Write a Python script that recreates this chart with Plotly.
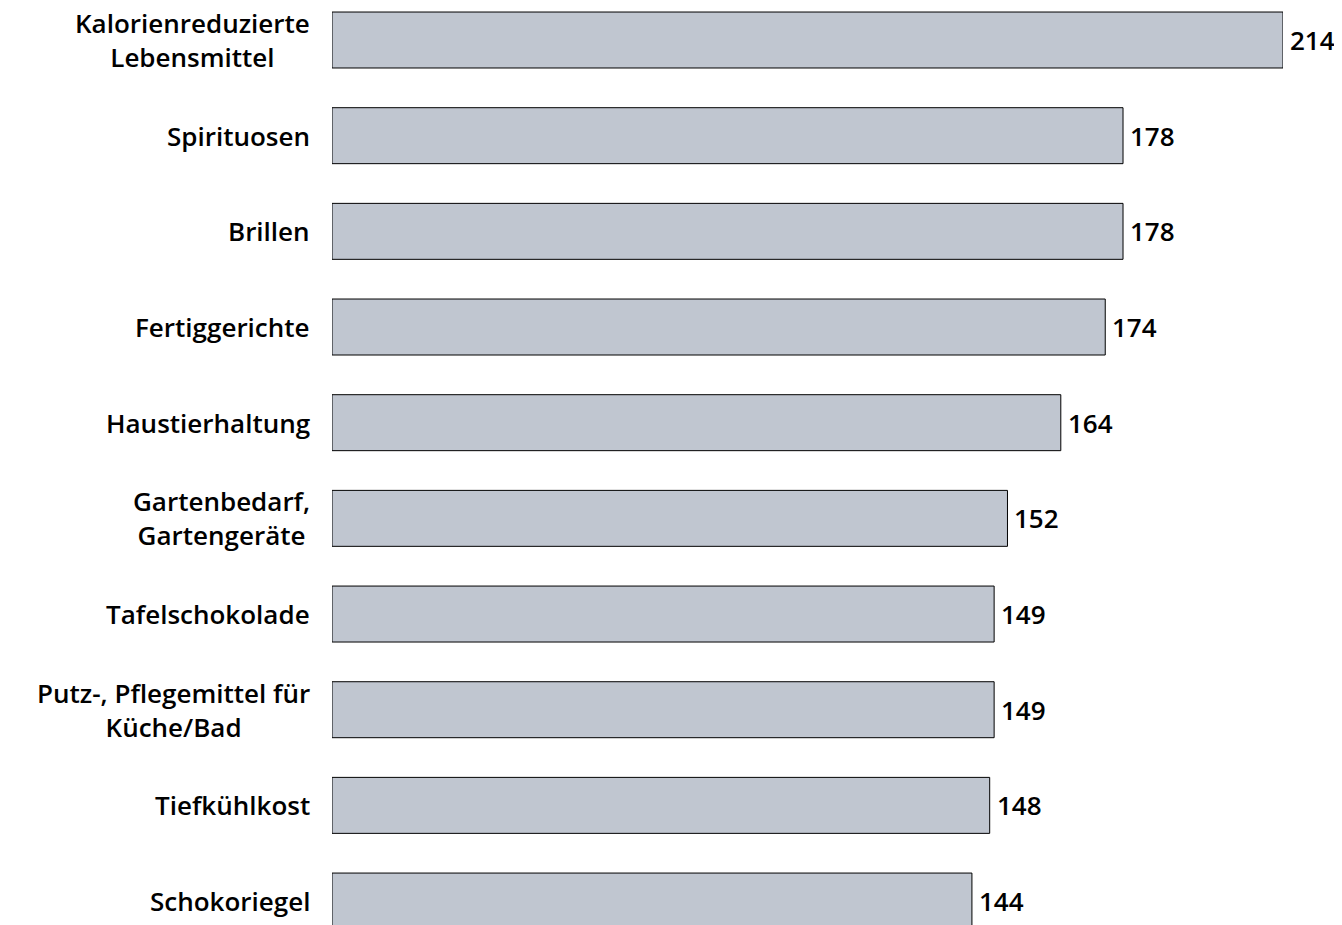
import plotly.graph_objects as go

categories = [
    "Kalorienreduzierte<br>Lebensmittel",
    "Spirituosen",
    "Brillen",
    "Fertiggerichte",
    "Haustierhaltung",
    "Gartenbedarf,<br>Gartengeräte",
    "Tafelschokolade",
    "Putz-, Pflegemittel für<br>Küche/Bad",
    "Tiefkühlkost",
    "Schokoriegel",
]
values = [214, 178, 178, 174, 164, 152, 149, 149, 148, 144]

FONT = "Open Sans"
FONTSPEC = dict(family=FONT, size=26, color="#000000", weight=600)
ypos = list(range(len(categories)))

fig = go.Figure()
fig.add_trace(go.Bar(
    x=values, y=ypos, orientation="h",
    marker=dict(color="#c0c6d0", line=dict(color="#000000", width=1)),
    width=0.585,
    hoverinfo="skip",
))

annotations = []
for i, (lab, v) in enumerate(zip(categories, values)):
    annotations.append(dict(
        x=0, xref="x", y=i, yref="y", text=lab, showarrow=False,
        xanchor="right", yanchor="middle", xshift=-20, align="center",
        font=FONTSPEC,
    ))
    annotations.append(dict(
        x=v, xref="x", y=i, yref="y", text=str(v), showarrow=False,
        xanchor="left", yanchor="middle", xshift=5,
        font=FONTSPEC,
    ))
fig.update_layout(annotations=annotations)

fig.update_layout(
    width=1342, height=925,
    margin=dict(l=324, r=67, t=0, b=0),
    plot_bgcolor="white", paper_bgcolor="white",
    showlegend=False,
    xaxis=dict(range=[0, 214], visible=False, fixedrange=True),
    yaxis=dict(range=[9.334, -0.3345], visible=False, fixedrange=True),
)
fig.write_html("out.html")
